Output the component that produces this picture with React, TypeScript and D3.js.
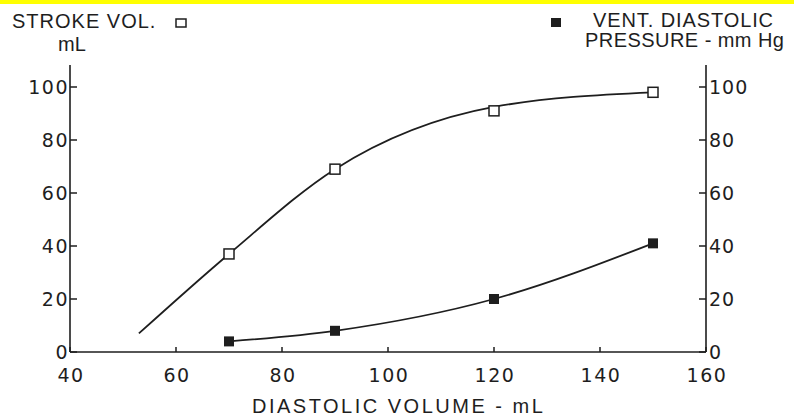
import React, { useEffect, useRef } from "react";
import * as d3 from "d3";

const xTicks = [40, 60, 80, 100, 120, 140, 160];
const yTicks = [0, 20, 40, 60, 80, 100];

// Stroke volume (open squares)
const svX = [70, 90, 120, 150];
const svY = [37, 69, 91, 98];
// hand-fitted curve through the stroke volume points
const svFitX = [53, 70, 90, 120, 150];
const svFitY = [7, 37, 69, 92.5, 98];

// Ventricular diastolic pressure (filled squares)
const pX = [70, 90, 120, 150];
const pY = [4, 8, 20, 41];

const FONT = "'Liberation Sans', Arial, sans-serif";
const TICKFONT = "'DejaVu Sans', 'Liberation Sans', sans-serif";
const INK = "#1e1e1e";

export default function App() {
  const ref = useRef<SVGSVGElement>(null);

  useEffect(() => {
    const svg = d3.select(ref.current);
    svg.selectAll("*").remove();

    const x = d3.scaleLinear().domain([40, 160]).range([70, 706]);
    const y = d3.scaleLinear().domain([0, 100]).range([352, 87]);

    // yellow top bar
    svg.append("rect").attr("x", 0).attr("y", 0).attr("width", 794).attr("height", 4).attr("fill", "#ffff00");

    const g = svg.append("g");

    // axes lines
    g.append("line").attr("x1", 70).attr("x2", 706).attr("y1", y(0)).attr("y2", y(0)).attr("stroke", INK).attr("stroke-width", 1.6);
    g.append("line").attr("x1", 70).attr("x2", 70).attr("y1", 65).attr("y2", y(0)).attr("stroke", INK).attr("stroke-width", 1.6);
    g.append("line").attr("x1", 706).attr("x2", 706).attr("y1", 65).attr("y2", y(0)).attr("stroke", INK).attr("stroke-width", 1.6);

    // y ticks
    yTicks.forEach((t) => {
      g.append("line").attr("x1", 70).attr("x2", 77).attr("y1", y(t)).attr("y2", y(t)).attr("stroke", INK).attr("stroke-width", 1.5);
      g.append("line").attr("x1", 699).attr("x2", 706).attr("y1", y(t)).attr("y2", y(t)).attr("stroke", INK).attr("stroke-width", 1.5);
      g.append("text").attr("x", 69).attr("y", y(t) + 7).attr("text-anchor", "end")
        .attr("font-family", TICKFONT).attr("font-size", 19).attr("letter-spacing", 1.5).attr("fill", INK).text(String(t));
      g.append("text").attr("x", 709).attr("y", y(t) + 7).attr("text-anchor", "start")
        .attr("font-family", TICKFONT).attr("font-size", 19).attr("letter-spacing", 1).attr("fill", INK).text(String(t));
    });

    // x ticks
    xTicks.forEach((t) => {
      g.append("line").attr("x1", x(t)).attr("x2", x(t)).attr("y1", y(0)).attr("y2", y(0) - 5).attr("stroke", INK).attr("stroke-width", 1.5);
      g.append("text").attr("x", x(t) + 1).attr("y", 382).attr("text-anchor", "middle")
        .attr("font-family", TICKFONT).attr("font-size", 19).attr("letter-spacing", 1.5).attr("fill", INK).text(String(t));
    });

    // x title
    g.append("text").attr("x", 252).attr("y", 413)
      .attr("font-family", FONT).attr("font-size", 20).attr("fill", INK).attr("letter-spacing", 2.5)
      .text("DIASTOLIC  VOLUME  -  mL");

    // left title
    g.append("text").attr("x", 12).attr("y", 28).attr("font-family", FONT).attr("font-size", 20).attr("fill", INK)
      .attr("letter-spacing", 1).text("STROKE  VOL.");
    g.append("rect").attr("x", 176).attr("y", 19).attr("width", 10).attr("height", 8).attr("fill", "none").attr("stroke", INK).attr("stroke-width", 1.5);
    g.append("text").attr("x", 72).attr("y", 51).attr("text-anchor", "middle").attr("font-family", FONT).attr("font-size", 20).attr("fill", INK)
      .text("mL");

    // right title
    g.append("rect").attr("x", 551).attr("y", 18).attr("width", 10).attr("height", 9).attr("fill", INK);
    g.append("text").attr("x", 593).attr("y", 27).attr("font-family", FONT).attr("font-size", 20).attr("fill", INK)
      .attr("letter-spacing", 0.9).text("VENT.  DIASTOLIC");
    g.append("text").attr("x", 585).attr("y", 47).attr("font-family", FONT).attr("font-size", 20).attr("fill", INK)
      .attr("letter-spacing", 0.45).text("PRESSURE - mm Hg");

    // curves
    const svLine = d3.line<number>().x((d) => x(d)).y((d, i) => y(svFitY[i])).curve(d3.curveMonotoneX);
    const pLine = d3.line<number>().x((d) => x(d)).y((d, i) => y(pY[i])).curve(d3.curveMonotoneX);
    g.append("path").attr("d", svLine(svFitX)).attr("fill", "none").attr("stroke", INK).attr("stroke-width", 1.8);
    g.append("path").attr("d", pLine(pX)).attr("fill", "none").attr("stroke", INK).attr("stroke-width", 1.8);

    // markers
    const s = 10;
    svX.forEach((v, i) => {
      g.append("rect").attr("x", x(v) - s / 2).attr("y", y(svY[i]) - s / 2).attr("width", s).attr("height", s)
        .attr("fill", "#fff").attr("stroke", INK).attr("stroke-width", 1.5);
    });
    pX.forEach((v, i) => {
      g.append("rect").attr("x", x(v) - s / 2).attr("y", y(pY[i]) - s / 2).attr("width", s).attr("height", s)
        .attr("fill", INK);
    });
  }, []);

  return (
    <svg ref={ref} width={794} height={420} style={{ position: "absolute", left: 0, top: 0, background: "#fff" }} />
  );
}
